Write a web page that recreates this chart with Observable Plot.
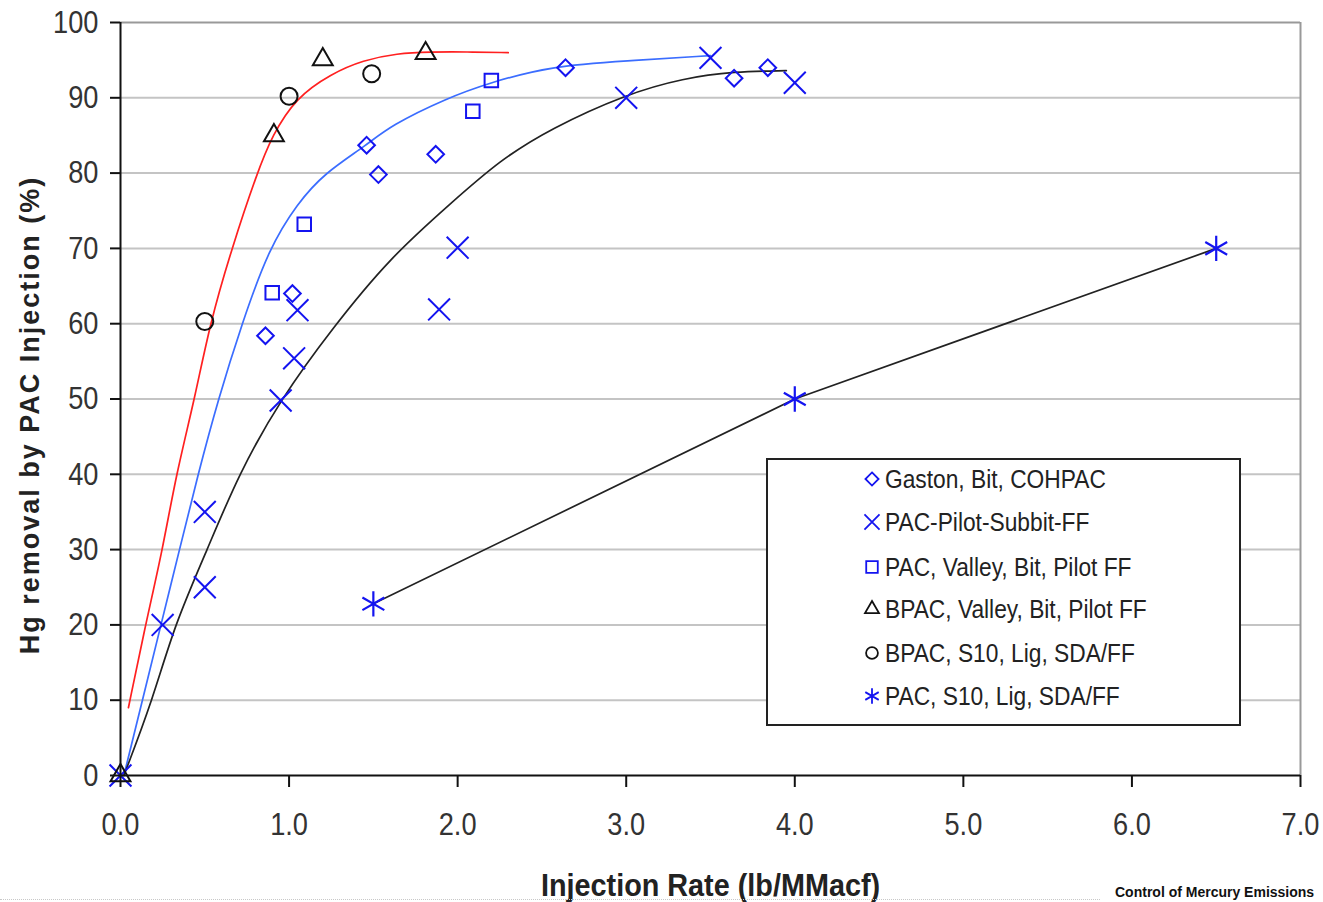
<!DOCTYPE html>
<html>
<head>
<meta charset="utf-8">
<script src="https://cdn.jsdelivr.net/npm/d3@7"></script>
<script src="https://cdn.jsdelivr.net/npm/@observablehq/plot@0.6"></script>
<style>
  html, body { margin: 0; padding: 0; background: #fff; }
  body { width: 1323px; height: 902px; overflow: hidden; position: relative;
         font-family: "Liberation Sans", Arial, sans-serif; }
  #chart { position: absolute; left: 0; top: 0; }
  #legend { position: absolute; left: 766px; top: 458px; width: 471px; height: 264px;
            border: 2px solid #222; background: #fff; }
  .row { position: absolute; left: 94px; height: 30px; display: flex; align-items: center; }
  .row svg { width: 20px; height: 20px; flex: none; }
  .row span { margin-left: 3px; font-size: 25px; color: #222; white-space: nowrap;
              display: inline-block; transform: scaleX(0.91); transform-origin: left center; }
  #caption { position: absolute; left: 1115px; top: 884px; font: bold 14px "Liberation Sans", sans-serif;
             color: #111; white-space: nowrap; }
  #dots { position: absolute; left: 0; top: 899px; width: 1100px; border-top: 1px dotted #c8c8c8; }
</style>
</head>
<body>
<div id="chart"></div>
<div id="legend"></div>
<div id="dots"></div>
<div id="caption">Control of Mercury Emissions</div>
<script>
// ---- tick values ----
const xTicks = [0, 1, 2, 3, 4, 5, 6, 7];
const yTicks = [0, 10, 20, 30, 40, 50, 60, 70, 80, 90, 100];

// ---- series labels ----
const seriesNames = [
  "Gaston, Bit, COHPAC",
  "PAC-Pilot-Subbit-FF",
  "PAC, Valley, Bit, Pilot FF",
  "BPAC, Valley, Bit, Pilot FF",
  "BPAC, S10, Lig, SDA/FF",
  "PAC, S10, Lig, SDA/FF"
];

// ---- scatter data ----
const gastonX = [0.86, 1.02, 1.46, 1.53, 1.87, 2.64, 3.64, 3.84];
const gastonY = [58.4, 64.0, 83.7, 79.8, 82.5, 94.0, 92.6, 94.0];

const subbitX = [0, 0.25, 0.5, 0.5, 0.95, 1.03, 1.05, 1.89, 2.0, 3.0, 3.5, 4.0];
const subbitY = [0, 20.0, 35.0, 25.0, 49.8, 55.4, 61.8, 61.9, 70.1, 90.0, 95.3, 92.0];

const valleyX = [0.9, 1.09, 2.09, 2.2];
const valleyY = [64.1, 73.2, 88.2, 92.3];

const bpacValleyX = [0, 0.91, 1.2, 1.81];
const bpacValleyY = [0, 85.0, 95.1, 95.9];

const bpacS10X = [0.5, 1.0, 1.49];
const bpacS10Y = [60.3, 90.2, 93.2];

const pacS10X = [1.5, 4.0, 6.5];
const pacS10Y = [22.8, 50.0, 70.0];

// ---- trend curves ----
const redX = [0.047, 0.148, 0.25, 0.33, 0.44, 0.53, 0.66, 0.81, 0.90, 1.04, 1.25, 1.44, 1.64, 1.84, 2.05, 2.3];
const redY = [9.0, 20, 30, 40, 50, 60, 70, 80, 85, 90, 93.2, 95.0, 95.9, 96.1, 96.1, 96.0];

const blueX = [0.02, 0.13, 0.24, 0.35, 0.46, 0.58, 0.72, 0.88, 1.05, 1.21, 1.46, 1.60, 1.94, 2.19, 2.55, 3.0, 3.5];
const blueY = [0, 10, 20, 30, 40, 50, 60, 70, 76, 80, 83.7, 86.3, 90, 92, 94.2, 94.9, 95.6];

const blackX = [0.02, 0.19, 0.32, 0.515, 0.70, 0.95, 1.26, 1.6, 1.96, 2.25, 2.55, 3.0, 3.34, 3.64, 3.95];
const blackY = [0, 10, 20, 30, 40, 50, 59.5, 68.8, 76, 81.7, 85.9, 90.5, 92.6, 93.5, 93.6];

const pts = (xs, ys) => xs.map((x, i) => ({x, y: ys[i]}));

const markBlue = "#1414f0";
const sans = '"Liberation Sans", Arial, sans-serif';
const xTitle = "Injection Rate (lb/MMacf)";
const yTitle = "Hg removal by PAC Injection (%)";

const chart = Plot.plot({
  width: 1323,
  height: 902,
  marginLeft: 120,
  marginRight: 23,
  marginTop: 22,
  marginBottom: 127,
  x: {domain: [0, 7]},
  y: {domain: [0, 100]},
  style: {background: "white", fontFamily: sans, overflow: "visible"},
  marks: [
    Plot.gridY(yTicks.filter(d => d > 0 && d < 100), {stroke: "#c4c4c4", strokeOpacity: 1, strokeWidth: 2}),
    Plot.ruleY([100], {stroke: "#999", strokeWidth: 2}),
    Plot.ruleX([7], {stroke: "#999", strokeWidth: 2}),
    Plot.line(pts(redX, redY), {x: "x", y: "y", curve: "basis", stroke: "#ff2020", strokeWidth: 1.7}),
    Plot.line(pts(blueX, blueY), {x: "x", y: "y", curve: "basis", stroke: "#3b6dff", strokeWidth: 1.7}),
    Plot.line(pts(blackX, blackY), {x: "x", y: "y", curve: "basis", stroke: "#222", strokeWidth: 1.7}),
    Plot.line(pts(pacS10X, pacS10Y), {x: "x", y: "y", stroke: "#222", strokeWidth: 1.7}),
    Plot.dot(pts(gastonX, gastonY), {x: "x", y: "y", symbol: "diamond2", r: 7.5, stroke: markBlue, strokeWidth: 2}),
    Plot.dot(pts(subbitX, subbitY), {x: "x", y: "y", symbol: "times", r: 10, stroke: markBlue, strokeWidth: 2}),
    Plot.dot(pts(valleyX, valleyY), {x: "x", y: "y", symbol: "square2", r: 8.6, stroke: markBlue, strokeWidth: 2}),
    Plot.dot(pts(bpacValleyX, bpacValleyY), {x: "x", y: "y", symbol: "triangle2", r: 9.5, stroke: "#111", strokeWidth: 2}),
    Plot.dot(pts(bpacS10X, bpacS10Y), {x: "x", y: "y", symbol: "circle", r: 8.5, stroke: "#111", strokeWidth: 2}),
    Plot.dot(pts(pacS10X, pacS10Y), {x: "x", y: "y", symbol: "asterisk", r: 12, stroke: markBlue, strokeWidth: 2.2}),
    Plot.axisX({ticks: xTicks, tickFormat: d3.format(".1f"), tickSize: 12, tickPadding: 25,
                fontSize: 32, stroke: "#111", strokeWidth: 2, fill: "#333", label: null}),
    Plot.axisY({ticks: yTicks, tickSize: 10, tickPadding: 12,
                fontSize: 32, stroke: "#111", strokeWidth: 2, fill: "#333", label: null}),
    Plot.ruleY([0], {stroke: "#111", strokeWidth: 2}),
    Plot.ruleX([0], {stroke: "#111", strokeWidth: 2}),
    Plot.text([xTitle], {frameAnchor: "bottom", dy: 110, textAnchor: "middle",
              lineAnchor: "middle", fontSize: 32, fontWeight: "bold", fill: "#222"}),
    Plot.text([yTitle], {frameAnchor: "left", dx: -90, dy: 16, rotate: -90,
              textAnchor: "middle", lineAnchor: "middle", fontSize: 27, fontWeight: "bold", fill: "#222"})
  ]
});
document.getElementById("chart").appendChild(chart);

// horizontally condense texts (reference uses a narrow face); keep em-based offsets intact
function squeeze(nodes, k) {
  nodes.forEach(el => {
    const t = el.getAttribute("transform") || "";
    el.setAttribute("transform", `${t} scale(${k},1)`);
  });
}
const allTexts = Array.from(chart.querySelectorAll("text"));
const tickTexts = Array.from(chart.querySelectorAll('g[aria-label$="tick label"] text'));
squeeze(tickTexts, 0.85);
squeeze(allTexts.filter(t => t.textContent === xTitle), 0.9);
allTexts.filter(t => t.textContent === yTitle).forEach(t => t.setAttribute("letter-spacing", "2"));

// ---- legend ----
const legendSymbols = [
  {type: d3.symbolDiamond2, size: 110, color: markBlue},
  {type: d3.symbolTimes, size: 150, color: markBlue},
  {type: d3.symbolSquare2, size: 170, color: markBlue},
  {type: d3.symbolTriangle2, size: 140, color: "#111"},
  {type: d3.symbolCircle, size: 110, color: "#111"},
  {type: d3.symbolAsterisk, size: 170, color: markBlue}
];
const rowCenters = [19, 62, 107, 149, 193, 236];
const legend = d3.select("#legend");
seriesNames.forEach((name, i) => {
  const row = legend.append("div").attr("class", "row").style("top", (rowCenters[i] - 15) + "px");
  const svg = row.append("svg").attr("viewBox", "-10 -10 20 20");
  const s = legendSymbols[i];
  svg.append("path").attr("d", d3.symbol(s.type, s.size)())
    .attr("fill", "none").attr("stroke", s.color).attr("stroke-width", 1.8);
  row.append("span").text(name);
});
</script>
</body>
</html>
